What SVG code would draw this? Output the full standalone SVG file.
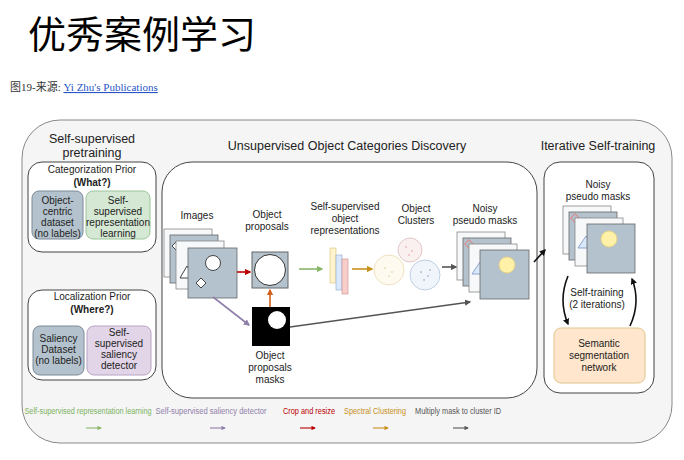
<svg xmlns="http://www.w3.org/2000/svg" width="684" height="460" viewBox="0 0 684 460">
<style>
text{font-family:"Liberation Sans",Arial,sans-serif;font-size:10px;fill:#222;text-anchor:middle}
.h{font-size:12.5px}
.lg{font-size:8.4px}
.sq{fill:#b4c2cd;stroke:#666;stroke-width:0.8}
.wq{fill:#f7f8fa;stroke:#888;stroke-width:0.8}
.ln{fill:none;stroke-width:1.6}
.tl{fill:none;stroke-width:1.1}
</style>
<defs>
<marker id="ah" viewBox="0 0 10 10" refX="8" refY="5" markerWidth="4" markerHeight="4" orient="auto"><path d="M0,0L10,5L0,10z" fill="context-stroke"/></marker>
</defs>
<rect width="684" height="460" fill="#fff"/>
<text x="28" y="48" style="font-family:'Noto Sans CJK SC',sans-serif;font-size:38px;text-anchor:start;fill:#000">优秀案例学习</text>
<text x="10" y="91" style="font-family:'Liberation Serif','Noto Sans CJK SC',serif;font-size:11px;text-anchor:start;fill:#333">图19-来源: <tspan style="fill:#2a54c8" text-decoration="underline">Yi Zhu's Publications</tspan></text>
<g id="frame"><rect x="22" y="120" width="650" height="323" rx="38" fill="#f5f5f5" stroke="#888"/>
<text class="h" x="92" y="143">Self-supervised</text><text class="h" x="92" y="157">pretraining</text>
<text class="h" x="347" y="150">Unsupervised Object Categories Discovery</text>
<text class="h" x="598" y="150">Iterative Self-training</text></g>
<g id="cat"><rect x="28" y="162" width="128" height="90" rx="14" fill="#fff" stroke="#444"/>
<text x="92" y="173">Categorization Prior</text><text x="92" y="186" font-weight="bold">(What?)</text>
<rect x="32" y="191" width="51" height="48" rx="7" fill="#b4c2cd" stroke="#7a8a96"/>
<text x="57.5" y="204">Object-</text><text x="57.5" y="215">centric</text><text x="57.5" y="226">dataset</text><text x="57.5" y="237">(no labels)</text>
<rect x="86" y="191" width="64" height="48" rx="7" fill="#d5e8d4" stroke="#9cc49a"/>
<text x="118" y="204">Self-</text><text x="118" y="215">supervised</text><text x="118" y="226">representation</text><text x="118" y="237">learning</text></g>
<g id="loc"><rect x="28" y="290" width="128" height="90" rx="14" fill="#fff" stroke="#444"/>
<text x="92" y="300">Localization Prior</text><text x="92" y="313" font-weight="bold">(Where?)</text>
<rect x="33" y="326" width="51" height="49" rx="7" fill="#b4c2cd" stroke="#7a8a96"/>
<text x="58.5" y="342">Saliency</text><text x="58.5" y="353">Dataset</text><text x="58.5" y="364">(no labels)</text>
<rect x="87" y="326" width="64" height="49" rx="7" fill="#e1d5e7" stroke="#b9a3c4"/>
<text x="119" y="336">Self-</text><text x="119" y="347">supervised</text><text x="119" y="358">saliency</text><text x="119" y="369">detector</text></g>
<g id="mid"><rect x="162" y="162" width="375" height="236" rx="30" fill="#fff" stroke="#444"/></g>
<g id="images"><text x="197" y="219">Images</text>
<rect class="wq" x="164" y="229" width="48" height="48"/><rect class="sq" x="170" y="235" width="48" height="48"/>
<path d="M172,246l5,-5l5,5l-5,5z" fill="#fff" stroke="#444"/>
<rect class="wq" x="176" y="241" width="48" height="48"/><path d="M180,278l7,-12l7,12z" fill="#fff" stroke="#444"/>
<rect class="sq" x="188" y="248" width="49" height="50"/>
<circle cx="213" cy="263" r="7.5" fill="#fff" stroke="#444"/><path d="M201,278l5,5l-5,5l-5,-5z" fill="#fff" stroke="#444"/></g>
<g id="proposal"><text x="267" y="218">Object</text><text x="267" y="230">proposals</text>
<rect x="252" y="252" width="36" height="36" fill="#b4c2cd" stroke="#666"/><circle cx="270" cy="270" r="15.5" fill="#fff" stroke="#333"/></g>
<g id="mask"><rect x="252" y="307" width="38" height="39" fill="#000"/><circle cx="277" cy="320" r="9" fill="#fff"/>
<text x="270" y="359">Object</text><text x="270" y="371">proposals</text><text x="270" y="383">masks</text></g>
<g id="reps"><text x="345" y="210">Self-supervised</text><text x="345" y="222">object</text><text x="345" y="234">representations</text>
<rect x="330" y="248" width="6" height="35" fill="#fff2cc" stroke="#d6c27a" stroke-width="0.6"/>
<rect x="336" y="255" width="6" height="35" fill="#dae8fc" stroke="#8aa6cc" stroke-width="0.6"/>
<rect x="342" y="259" width="6" height="35" fill="#f8cecc" stroke="#c98b89" stroke-width="0.6"/></g>
<g id="clusters"><text x="416" y="212">Object</text><text x="416" y="224">Clusters</text>
<circle cx="410" cy="250" r="12" fill="#fbf0f0" stroke="#d6b4b4" stroke-width="0.7"/>
<circle cx="389" cy="270" r="15" fill="#fffaf0" stroke="#e6d6a6" stroke-width="0.7"/>
<circle cx="425" cy="275" r="15" fill="#f0f5fb" stroke="#a8bcd6" stroke-width="0.7"/>
<g fill="#d99"><circle cx="406" cy="247" r="0.8"/><circle cx="412" cy="251" r="0.8"/><circle cx="409" cy="255" r="0.8"/></g>
<g fill="#dc9"><circle cx="385" cy="268" r="0.8"/><circle cx="392" cy="272" r="0.8"/><circle cx="389" cy="276" r="0.8"/></g>
<g fill="#89b"><circle cx="421" cy="272" r="0.8"/><circle cx="428" cy="276" r="0.8"/><circle cx="424" cy="280" r="0.8"/><circle cx="430" cy="270" r="0.8"/></g></g>
<g id="noisy1"><text x="485" y="212">Noisy</text><text x="485" y="224">pseudo masks</text>
<rect class="wq" x="457" y="232" width="48" height="48"/><rect class="sq" x="463" y="238" width="48" height="48"/>
<rect x="466" y="241" width="6" height="6" transform="rotate(45 469 244)" fill="none" stroke="#d88"/>
<rect class="wq" x="469" y="244" width="48" height="48"/><path d="M472,274l8,-12l8,12z" fill="#dae8fc" stroke="#8aa6cc"/>
<rect class="sq" x="480" y="250" width="49" height="49"/><circle cx="507" cy="265" r="8" fill="#fff2a8" stroke="#e6d08a"/></g>
<g id="right"><rect x="544" y="162" width="110" height="231" rx="16" fill="#fff" stroke="#444"/>
<text x="598" y="188">Noisy</text><text x="598" y="200">pseudo masks</text>
<rect class="wq" x="563" y="206" width="48" height="48"/><rect class="sq" x="569" y="212" width="48" height="48"/>
<rect x="572" y="215" width="6" height="6" transform="rotate(45 575 218)" fill="none" stroke="#d88"/>
<rect class="wq" x="575" y="218" width="48" height="48"/><path d="M578,248l8,-12l8,12z" fill="#dae8fc" stroke="#8aa6cc"/>
<rect class="sq" x="587" y="224" width="48" height="49"/><circle cx="609" cy="239" r="8" fill="#fff2a8" stroke="#e6d08a"/>
<text x="597" y="296">Self-training</text><text x="597" y="308">(2 iterations)</text></g>
<g id="seg"><rect x="554" y="328" width="91" height="55" rx="7" fill="#ffe6cc" stroke="#e0c48a"/>
<text x="599" y="347">Semantic</text><text x="599" y="359">segmentation</text><text x="599" y="371">network</text></g>
<g id="connectors">
<path class="ln" d="M237,272H250" stroke="#b00" marker-end="url(#ah)"/>
<path class="ln" d="M270,307V290" stroke="#d4601c" marker-end="url(#ah)"/>
<path class="ln" d="M213,297L249,325" stroke="#8f7faa" marker-end="url(#ah)"/>
<path class="ln" d="M290,327L470,302" stroke="#555" marker-end="url(#ah)"/>
<path class="ln" d="M299,269H322" stroke="#8ab66a" marker-end="url(#ah)"/>
<path class="ln" d="M352,269H372" stroke="#c8901c" marker-end="url(#ah)"/>
<path class="ln" d="M442,267H456" stroke="#555" marker-end="url(#ah)"/>
<path class="ln" d="M534,262L545,250" stroke="#111" marker-end="url(#ah)"/>
<path class="ln" d="M568,276Q558,300 568,324" stroke="#111" marker-end="url(#ah)"/>
<path class="ln" d="M630,326Q641,302 632,279" stroke="#111" marker-end="url(#ah)"/>
</g>
<g id="legend">
<text class="lg" x="88" y="414" textLength="127" lengthAdjust="spacingAndGlyphs" style="fill:#7bb35e">Self-supervised representation learning</text>
<text class="lg" x="211" y="414" textLength="111" lengthAdjust="spacingAndGlyphs" style="fill:#8f7faa">Self-supervised saliency detector</text>
<text class="lg" x="309" y="414" textLength="52" lengthAdjust="spacingAndGlyphs" style="fill:#b00">Crop and resize</text>
<text class="lg" x="375" y="414" textLength="62" lengthAdjust="spacingAndGlyphs" style="fill:#c8901c">Spectral Clustering</text>
<text class="lg" x="458" y="414" textLength="86" lengthAdjust="spacingAndGlyphs" style="fill:#555">Multiply mask to cluster ID</text>
<path class="tl" d="M86,428H101" stroke="#8ab66a" marker-end="url(#ah)"/>
<path class="tl" d="M210,428H225" stroke="#8f7faa" marker-end="url(#ah)"/>
<path class="tl" d="M300,428H315" stroke="#b00" marker-end="url(#ah)"/>
<path class="tl" d="M373,428H388" stroke="#c8901c" marker-end="url(#ah)"/>
<path class="tl" d="M453,428H468" stroke="#555" marker-end="url(#ah)"/>
</g>
</svg>
